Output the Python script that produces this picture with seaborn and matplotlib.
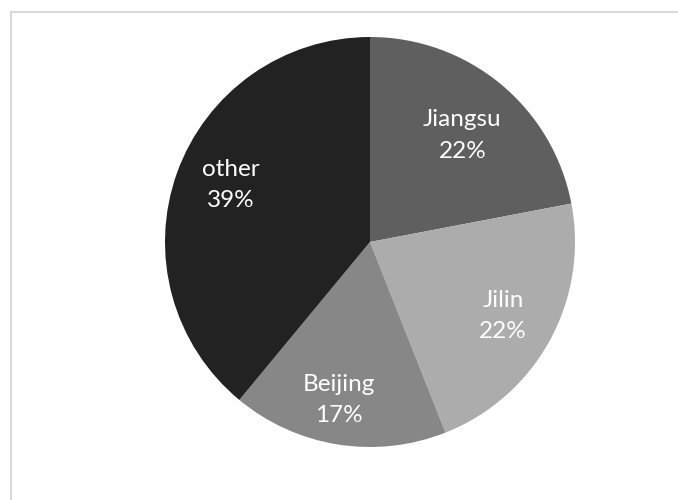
import matplotlib
matplotlib.use("Agg")
import matplotlib.pyplot as plt
import seaborn as sns
from matplotlib.patches import Rectangle

# Share of total by region
regions = ["Jiangsu", "Jilin", "Beijing", "other"]
shares = [22, 22, 17, 39]
colors = ["#5f5f5f", "#acacac", "#878787", "#222222"]

# Label anchor points inside each wedge (pie radius = 1)
label_x = [0.45, 0.65, -0.15, -0.68]
label_y = [0.52, -0.36, -0.77, 0.28]

sns.set_theme(style="white")
plt.rcParams["font.family"] = ["Lato", "DejaVu Sans"]

fig = plt.figure(figsize=(6.78, 5.0), dpi=100)
fig.patch.set_facecolor("white")

# Light frame around the chart area
fig.add_artist(Rectangle((11 / 678, -0.1), 1.2, 0.1 + 488 / 500,
                         transform=fig.transFigure, fill=False,
                         edgecolor="#d9d9d9", linewidth=1.5))

ax = fig.add_axes([165 / 678, 53 / 500, 410 / 678, 410 / 500])
ax.pie(shares, colors=colors, startangle=90, counterclock=False,
       wedgeprops=dict(linewidth=0))
ax.set_xlim(-1, 1)
ax.set_ylim(-1, 1)
ax.set_aspect("equal")
ax.axis("off")

for name, val, x, y in zip(regions, shares, label_x, label_y):
    ax.text(x, y, f"{name}\n{val}%", ha="center", va="center",
            color="white", fontsize=17.5, linespacing=1.6)

fig.savefig("out.png", dpi=100, facecolor="white")
